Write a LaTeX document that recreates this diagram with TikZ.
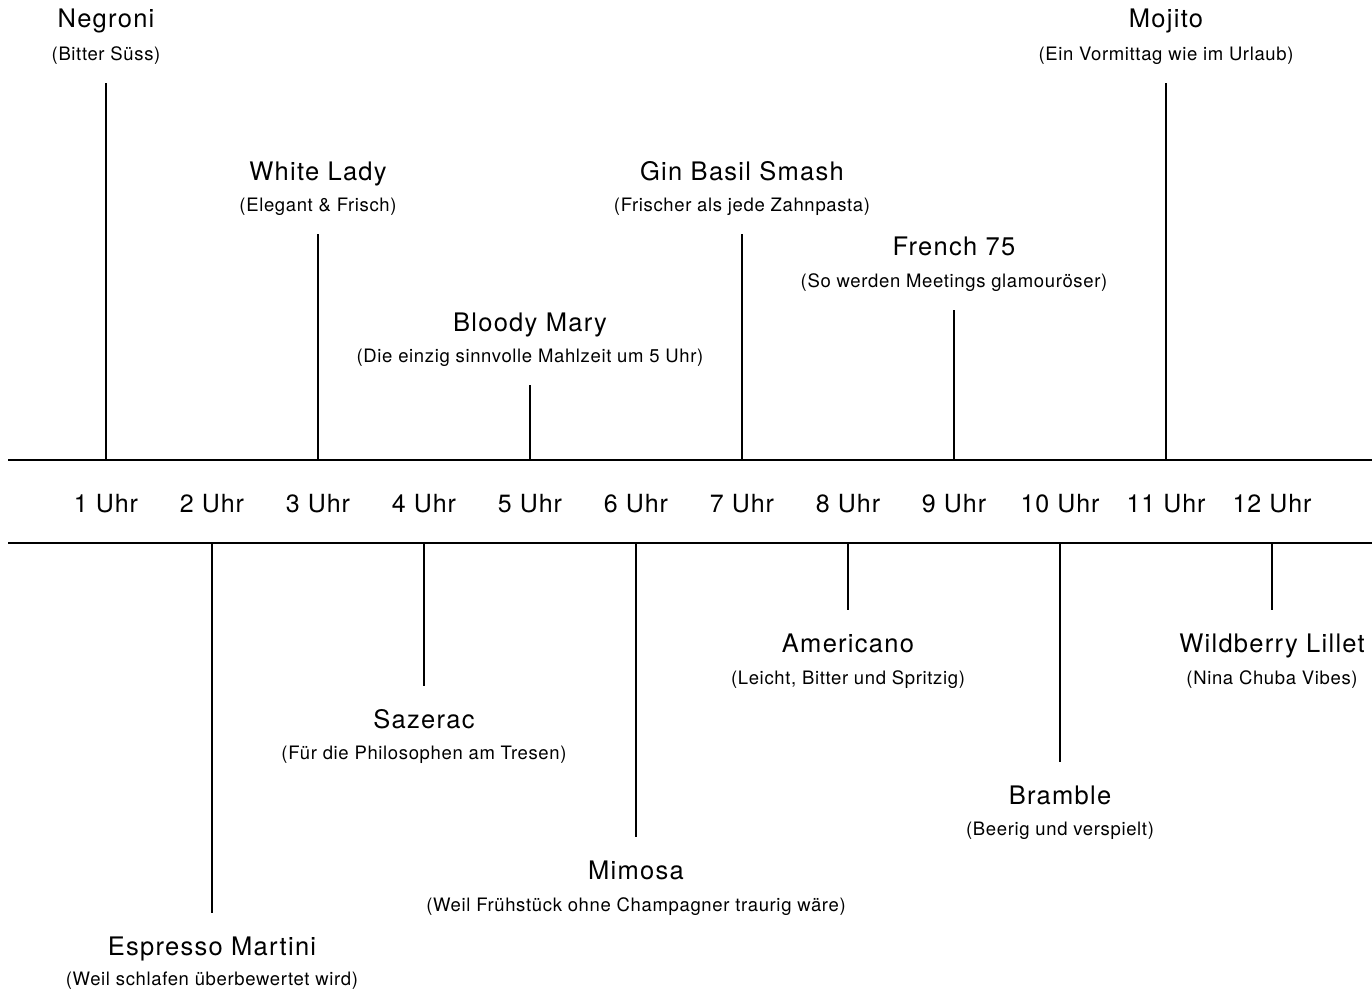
\documentclass[tikz,border=0pt]{standalone}
\usepackage{fontspec}
\setmainfont{TeX Gyre Heros}[LetterSpace=4]
\newfontfamily\titlefont{TeX Gyre Heros}[LetterSpace=5]
\newfontfamily\subfont{TeX Gyre Heros}[LetterSpace=3.5]
\begin{document}
\begin{tikzpicture}[x=1pt,y=-1pt,
  axis/.style={line width=2pt,black},
  stem/.style={line width=2pt,black},
  title/.style={anchor=base,inner sep=0pt,font=\titlefont\fontsize{25.5}{30}\selectfont},
  sub/.style={anchor=base,inner sep=0pt,font=\subfont\fontsize{18.5}{22}\selectfont},
  hour/.style={anchor=base,inner sep=0pt,font=\fontsize{25}{30}\selectfont}]
\useasboundingbox (0,0) rectangle (1372,990);
\coordinate (L1) at (8,460); \coordinate (R1) at (1372,460);
\coordinate (L2) at (8,543); \coordinate (R2) at (1372,543);
\draw[axis] (L1) -- (R1);
\draw[axis] (L2) -- (R2);
\foreach \i in {1,...,12} {
  \node[hour] (h\i) at (106*\i,512) {\i\ Uhr};
}
% upper items: x / title / subtitle / line top / title centre / sub centre
\foreach \x/\t/\s/\tp/\tc/\sc [count=\i] in {
  106/Negroni/(Bitter Süss)/83/19/53,
  318/White Lady/(Elegant \& Frisch)/234/171/204,
  530/Bloody Mary/(Die einzig sinnvolle Mahlzeit um 5 Uhr)/385/322/355,
  742/Gin Basil Smash/(Frischer als jede Zahnpasta)/234/171/204,
  954/French 75/(So werden Meetings glamouröser)/310/246/280,
  1166/Mojito/(Ein Vormittag wie im Urlaub)/83/19/53} {
  \coordinate (ua\i) at (\x,460);
  \coordinate (ue\i) at (\x,\tp);
  \draw[stem] (ua\i) -- (ue\i);
  \node[title] (ut\i) at (\x,\tc+9) {\t};
  \node[sub] (us\i) at (\x,\sc+7.5) {\s};
}
% lower items
\foreach \x/\t/\s/\bt/\tc/\sc [count=\i] in {
  212/Espresso Martini/(Weil schlafen überbewertet wird)/913/946/978,
  424/Sazerac/(Für die Philosophen am Tresen)/686/719/752,
  636/Mimosa/(Weil Frühstück ohne Champagner traurig wäre)/837/870/904,
  848/Americano/{(Leicht, Bitter und Spritzig)}/610/643/677,
  1060/Bramble/(Beerig und verspielt)/762/795/828,
  1272/Wildberry Lillet/(Nina Chuba Vibes)/610/643/677} {
  \coordinate (da\i) at (\x,543);
  \coordinate (de\i) at (\x,\bt);
  \draw[stem] (da\i) -- (de\i);
  \node[title] (dt\i) at (\x,\tc+9) {\t};
  \node[sub] (ds\i) at (\x,\sc+7.5) {\s};
}
\end{tikzpicture}
\end{document}
